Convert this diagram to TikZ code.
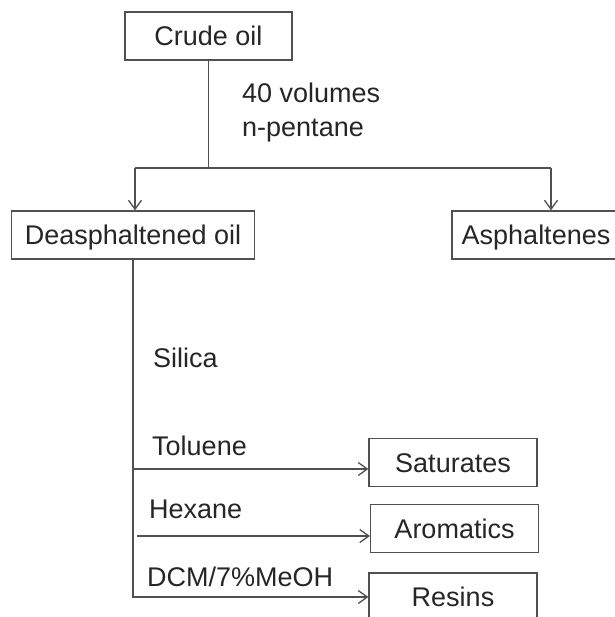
\documentclass[tikz,border=0pt]{standalone}
\usepackage{fontspec}
\setmainfont{Liberation Sans}
\usetikzlibrary{arrows.meta}
\definecolor{linec}{HTML}{505050}
\definecolor{txt}{HTML}{262626}
\begin{document}
\begin{tikzpicture}[x=1pt,y=-1pt,
  box/.style={draw=linec, line width=1.3pt, minimum width=168pt, minimum height=48pt,
    inner sep=0pt, text height=19.5pt, text depth=0pt,
    font=\fontsize{27}{32}\selectfont, text=txt},
  lbl/.style={anchor=base west, inner sep=0pt, font=\fontsize{27}{32}\selectfont, text=txt},
  conn/.style={draw=linec, line width=1.3pt},
  arr/.style={conn, -{Straight Barb[length=9pt,width=13pt,line width=1.3pt]}}]
\useasboundingbox (0,0) rectangle (614,617);
\fill[white] (0,0) rectangle (614,617);
% boxes
\node[box, minimum width=167pt] (crude) at (208.5,36) {Crude oil};
\node[box, minimum width=243pt] (deasph) at (133,235) {Deasphaltened oil};
\node[box] (asph) at (536,235) {Asphaltenes};
\node[box] (sat) at (453,462.5) {Saturates};
\node[box] (aro) at (454.5,528.5) {Aromatics};
\node[box] (res) at (453,597) {Resins};
% labels
\node[lbl] (vol) at (242,103) {40 volumes};
\node[lbl] (pent) at (242,137) {n-pentane};
\node[lbl] (sil) at (153,367) {Silica};
\node[lbl] (tol) at (152,455) {Toluene};
\node[lbl] (hex) at (149,518) {Hexane};
\node[lbl] (dcm) at (147,586) {DCM/7\%MeOH};
% connectors
\coordinate (split) at (208.5,168);
\coordinate (lsplit) at (135,168);
\coordinate (rsplit) at (551,168);
\draw[conn] (crude.south) -- (split);
\draw[conn] (lsplit) -- (rsplit);
\draw[arr] (lsplit) -- (lsplit |- deasph.north);
\draw[arr] (rsplit) -- (rsplit |- asph.north);
\draw[arr] (deasph.south) |- (res.west);
\coordinate (tolstart) at (132,469);
\draw[arr] (tolstart) -- (tolstart -| sat.west);
\coordinate (hexstart) at (137,536);
\draw[arr] (hexstart) -- (hexstart -| aro.west);
\end{tikzpicture}
\end{document}
